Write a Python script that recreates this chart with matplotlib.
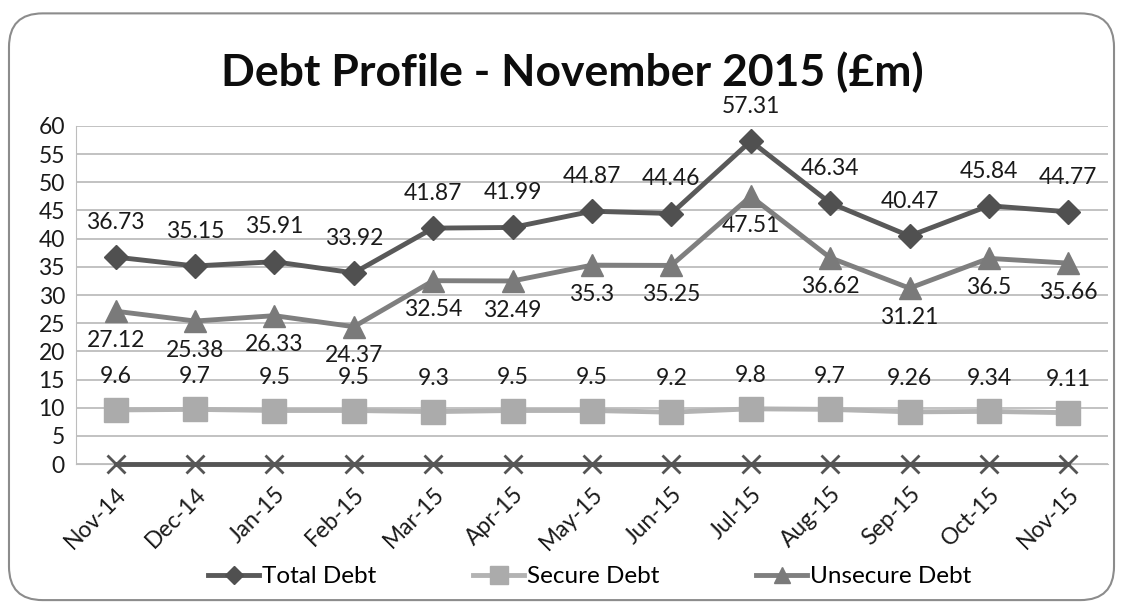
import matplotlib
matplotlib.use("Agg")
from matplotlib import pyplot as plt
from matplotlib.patches import FancyBboxPatch

# 月份与各项债务数据（单位：百万英镑）
months = ["Nov-14", "Dec-14", "Jan-15", "Feb-15", "Mar-15", "Apr-15", "May-15",
          "Jun-15", "Jul-15", "Aug-15", "Sep-15", "Oct-15", "Nov-15"]
total_debt = [36.73, 35.15, 35.91, 33.92, 41.87, 41.99, 44.87, 44.46, 57.31, 46.34, 40.47, 45.84, 44.77]
secure_debt = [9.6, 9.7, 9.5, 9.5, 9.3, 9.5, 9.5, 9.2, 9.8, 9.7, 9.26, 9.34, 9.11]
unsecure_debt = [27.12, 25.38, 26.33, 24.37, 32.54, 32.49, 35.3, 35.25, 47.51, 36.62, 31.21, 36.5, 35.66]
other_debt = [0, 0, 0, 0, 0, 0, 0, 0, 0, 0, 0, 0, 0]

plt.rcParams["font.family"] = ["Lato", "DejaVu Sans"]

fig = plt.figure(figsize=(11.23, 6.08), dpi=100)
ax = fig.add_axes([0.0677, 0.2368, 0.9189, 0.556])

# 外框（圆角）
frame = FancyBboxPatch((0.008, 0.013), 0.984, 0.965, boxstyle="round,pad=0,rounding_size=0.03",
                       transform=fig.transFigure, facecolor="none", edgecolor="#8c8c8c",
                       linewidth=1.5, mutation_aspect=1123 / 608)
fig.patches.append(frame)

x = range(len(months))

ax.plot(x, other_debt, color="#555555", linewidth=3.5, marker="x", markersize=13,
        markeredgewidth=2, zorder=3, clip_on=False)
ax.plot(x, secure_debt, color="#b3b3b3", linewidth=3.5, marker="s", markersize=17,
        markerfacecolor="#ababab", markeredgecolor="#ababab", label="Secure Debt", zorder=4)
ax.plot(x, unsecure_debt, color="#7f7f7f", linewidth=3.5, marker="^", markersize=16,
        markerfacecolor="#7a7a7a", markeredgecolor="#7a7a7a", label="Unsecure Debt", zorder=5)
ax.plot(x, total_debt, color="#595959", linewidth=3.5, marker="D", markersize=12,
        markerfacecolor="#505050", markeredgecolor="#505050", label="Total Debt", zorder=6)

# 数据标签
for i in x:
    ax.annotate(f"{total_debt[i]:g}", (i, total_debt[i]), xytext=(0, 25), textcoords="offset points",
                ha="center", va="center", fontsize=16.5, color="#1a1a1a")
    ax.annotate(f"{unsecure_debt[i]:g}", (i, unsecure_debt[i]), xytext=(0, -21), textcoords="offset points",
                ha="center", va="center", fontsize=16.5, color="#1a1a1a")
    ax.annotate(f"{secure_debt[i]:g}", (i, secure_debt[i]), xytext=(0, 24), textcoords="offset points",
                ha="center", va="center", fontsize=16.5, color="#1a1a1a")

ax.set_xlim(-0.5, len(months) - 0.5)
ax.set_ylim(0, 60)
ax.set_yticks(range(0, 61, 5))
ax.set_xticks(list(x))
ax.set_xticklabels(months, rotation=45, ha="right", va="top", rotation_mode="anchor")
ax.tick_params(axis="both", length=0, labelsize=16.5, colors="#1a1a1a")
ax.tick_params(axis="x", pad=14)
ax.tick_params(axis="y", pad=8)

ax.grid(axis="y", color="#bdbdbd", linewidth=1.3)
ax.set_axisbelow(True)
for side in ["top", "right"]:
    ax.spines[side].set_visible(False)
ax.spines["left"].set_color("#bdbdbd")
ax.spines["bottom"].set_color("#bdbdbd")

fig.text(0.51, 0.882, "Debt Profile - November 2015 (£m)", ha="center", va="center",
         fontsize=32, fontweight="bold", color="#0d0d0d")

handles, labels = ax.get_legend_handles_labels()
order = [2, 0, 1]
leg = fig.legend([handles[k] for k in order], [labels[k] for k in order], loc="center",
                 bbox_to_anchor=(0.525, 0.051), ncol=3, frameon=False, fontsize=17.5,
                 handlelength=2.1, handletextpad=0.1, columnspacing=4.0, markerscale=0.75)

plt.savefig("out.png", dpi=100)
plt.close()
